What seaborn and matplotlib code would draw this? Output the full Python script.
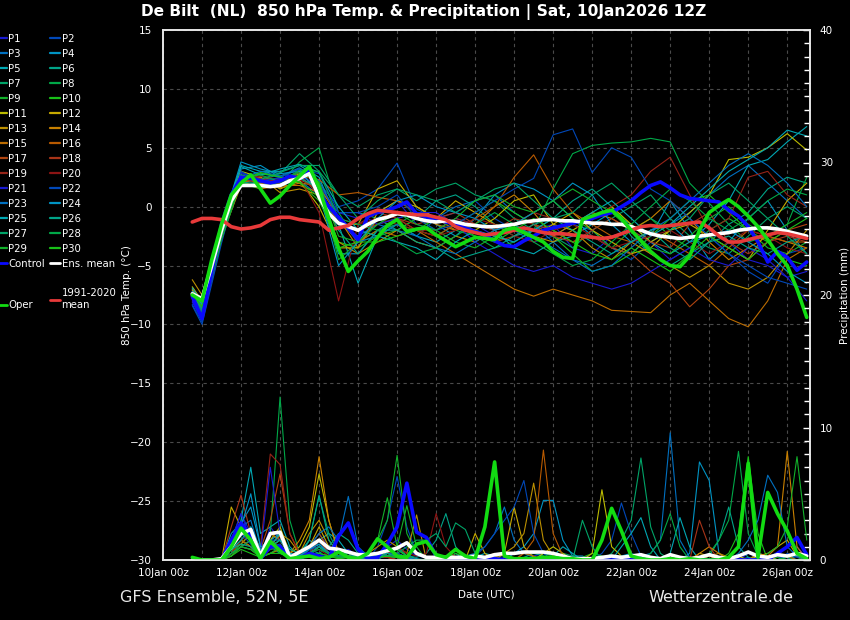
"""GFS ensemble plume for De Bilt: 850 hPa temperature and precipitation."""

import matplotlib

matplotlib.use("Agg")
import matplotlib.pyplot as plt
import pandas as pd
import seaborn as sns
from matplotlib.lines import Line2D
from matplotlib.ticker import MultipleLocator

# hours after 10Jan 00z; run is 10Jan 12Z, first step +6h
step_hours = list(range(18, 397, 6))
member_temp_hours = [18] + list(range(24, 397, 12))

tick_hours = list(range(0, 385, 48))
tick_labels = ["10Jan 00z", "12Jan 00z", "14Jan 00z", "16Jan 00z", "18Jan 00z",
               "20Jan 00z", "22Jan 00z", "24Jan 00z", "26Jan 00z"]

member_names = [f"P{i}" for i in range(1, 31)]
base_colors = ["#1a1ad0", "#0048b8", "#0070c0", "#0094c4", "#00a8b4",
               "#00a488", "#00a468", "#00a848", "#12b02a", "#18c018",
               "#bcbc00", "#c8aa00", "#bc9000", "#c88000", "#bc6c00",
               "#b85a00", "#b04410", "#a83418", "#962418", "#8c1414"]
member_colors = [base_colors[i % 20] for i in range(30)]

# 850 hPa temperature of the perturbed members (12-hourly)
member_temp = [
    [-8.0, -9.5, -2.6, 2.5, 2.0, 2.3, 2.8, 1.5, -0.5, -1.0, -0.5, 0.5, -1.5, -2.0, -1.0, -1.5, -2.5, -3.0, -2.0, -1.5, -3.5, -4.0, -2.5, -2.0, -3.0, -4.5, -3.5, -2.0, -3.0, -4.5, -5.0, -6.0, -5.5],
    [-8.3, -9.8, -2.8, 2.8, 2.4, 1.9, 3.0, 2.0, 0.0, 0.5, 1.5, 3.7, -0.2, -1.0, -0.5, 0.5, -1.0, -2.0, -3.0, -2.5, -1.5, -2.0, -3.5, -4.5, -3.0, -2.0, -1.0, -2.5, -4.0, -5.5, -6.5, -4.0, -3.5],
    [-7.8, -9.0, -2.3, 2.0, 2.8, 2.5, 2.2, 1.0, -1.5, -2.5, -1.5, -2.0, -2.5, -1.0, 0.0, 0.5, 1.0, -0.5, -1.5, -3.0, -4.5, -5.0, -4.0, -3.0, -2.0, -1.5, -0.5, 1.0, 2.5, 3.5, 2.0, 0.5, -1.0],
    [-7.2, -8.5, -1.8, 3.2, 3.5, 2.5, 3.2, 1.0, -4.0, -4.0, -2.0, -1.0, -0.5, -1.5, -2.5, -1.0, 1.0, 2.0, 1.5, 0.5, -1.0, -2.5, -3.5, -4.0, -2.5, 0.5, -2.0, -4.5, -3.0, -1.0, 0.5, -2.0, -4.0],
    [-7.0, -8.2, -1.6, 3.5, 3.0, 3.0, 3.5, 2.5, -1.5, -6.5, -2.5, -1.5, -2.5, -3.0, -2.0, -1.5, -2.0, -3.5, -4.0, -3.0, -2.5, -1.5, -0.5, -1.5, -3.0, -4.0, -3.0, -1.5, 0.5, 3.5, 4.0, 5.5, 6.8],
    [-7.5, -8.8, -2.3, 2.2, 2.0, 1.8, 2.5, 1.5, -0.5, -0.5, -1.0, -2.0, -1.0, 0.5, 1.0, 0.0, -1.5, -2.5, -2.0, -1.0, 0.5, 1.5, 0.0, -2.5, -4.0, -5.0, -4.0, -3.0, -1.5, -0.5, 1.5, 2.5, 2.0],
    [-7.6, -9.0, -2.4, 2.6, 2.2, 2.8, 4.5, 3.0, 1.0, 0.0, 1.0, 1.5, 0.5, 1.5, 2.0, 1.0, 0.5, -1.0, -2.0, -2.5, -3.5, -2.0, -1.0, 0.0, 1.0, -1.0, -2.5, -3.5, -4.0, -2.5, -1.0, 0.0, -1.0],
    [-7.3, -8.6, -2.0, 2.4, 2.6, 2.0, 3.8, 5.0, -0.5, -3.0, -2.0, -1.5, -0.5, -1.0, -2.0, -2.5, -3.5, -3.0, -2.0, 1.5, 4.5, 5.2, 5.4, 5.5, 5.8, 5.5, 2.0, 0.3, -1.5, -3.0, -2.5, -1.5, 2.5],
    [-7.7, -9.2, -2.7, 2.0, 1.5, 2.2, 3.0, 2.0, -4.5, -3.0, -2.5, -2.0, -1.0, -2.0, -3.0, -3.5, -2.5, -1.5, -0.5, 0.5, -1.0, -2.0, -3.5, -2.0, -1.0, -2.5, -3.5, -2.0, -1.0, -2.0, -3.5, -4.0, -3.0],
    [-7.4, -8.4, -2.1, 2.3, 2.8, 2.6, 2.0, 0.5, -3.0, -3.5, -2.5, -1.5, -2.0, -2.5, -1.5, -0.5, 0.5, -0.5, -1.5, -2.5, -4.0, -5.5, -5.0, -4.0, -2.5, -1.0, 0.5, 1.0, -0.5, -2.0, -3.0, -4.5, -5.0],
    [-6.8, -8.0, -1.8, 3.0, 2.5, 1.5, 2.2, 0.0, -3.5, -3.5, -0.5, 0.5, 0.0, -1.0, -1.5, -2.0, -1.0, 0.5, 1.0, -1.5, -2.0, -1.0, 0.0, -1.5, -3.0, -2.0, -0.5, 1.0, 4.0, 4.2, 5.0, 6.2, 4.8],
    [-7.1, -8.3, -2.2, 2.7, 1.8, 2.2, 2.8, 1.5, -1.5, -1.5, 1.5, 2.2, 0.0, -1.0, 0.5, -0.5, -1.5, -2.0, -2.5, -1.5, -0.5, -2.0, -3.0, -4.0, -3.5, -2.0, -1.5, -2.5, -3.5, -4.5, -2.0, 0.5, 2.0],
    [-6.2, -7.5, -1.3, 2.0, 2.5, 1.2, 1.5, 1.0, -3.0, -4.0, -3.0, -2.0, -3.0, -3.5, -2.5, -3.0, -2.0, -1.5, -2.5, -3.0, -2.0, -3.5, -4.5, -3.0, -4.0, -5.0, -6.0, -5.0, -6.5, -7.0, -6.0, -4.0, -2.0],
    [-7.0, -8.0, -2.5, 1.8, 2.0, 1.6, 2.0, 1.8, -1.0, -3.5, -1.0, -0.5, -0.5, -1.5, -2.0, -1.5, 0.0, 1.0, -0.5, -2.5, -1.5, -0.5, -1.0, -2.0, -1.0, 0.5, -1.0, -3.0, -4.5, -3.5, -2.5, -3.0, -3.5],
    [-7.4, -8.5, -2.3, 2.2, 1.5, 1.8, 1.8, 1.2, -1.0, -3.0, -2.0, -2.5, -2.0, -3.0, -4.0, -5.0, -6.0, -7.0, -7.6, -7.0, -7.5, -8.0, -8.8, -8.9, -9.0, -7.5, -6.5, -8.0, -9.5, -10.2, -8.0, -4.5, -3.5],
    [-7.3, -8.6, -2.4, 2.1, 2.3, 2.4, 2.6, 2.3, 1.0, 1.2, 0.8, 0.5, -0.5, -1.0, -2.0, -1.0, 0.0, 2.5, 4.4, 1.5, -0.5, -1.5, -2.5, -3.0, -2.0, -3.0, -4.0, -5.0, -3.5, -2.0, -2.5, -3.0, -3.0],
    [-7.5, -8.9, -2.6, 2.5, 2.2, 1.9, 2.3, 1.5, -1.5, -2.0, -1.5, -1.0, -2.0, -2.5, -1.5, -2.0, -3.0, -2.5, -1.5, -2.0, -3.0, -2.5, -3.5, -4.0, -5.5, -6.5, -8.5, -7.0, -5.0, -4.5, -3.0, -2.0, -1.5],
    [-7.6, -9.1, -2.5, 2.4, 2.0, 2.2, 2.7, 1.0, -2.0, -1.0, -0.5, -1.0, -1.5, -1.0, -0.5, -1.5, -2.0, -1.0, -1.5, -2.5, -3.0, -2.0, -1.0, -2.0, -3.0, -3.5, -1.5, -0.5, -3.0, -4.0, -3.0, -2.5, -3.0],
    [-7.9, -9.3, -2.8, 2.6, 2.4, 2.1, 2.9, 2.0, -1.0, -1.5, -0.5, -1.0, -2.0, -2.0, -1.0, -1.5, -2.0, -1.5, -0.5, -1.0, -1.5, -1.0, 0.0, 1.0, 3.0, 4.2, 1.0, -2.0, -1.0, 2.5, 3.0, 1.0, 0.0],
    [-7.7, -9.0, -2.7, 2.3, 2.6, 2.3, 2.5, -0.5, -8.0, -1.5, -1.0, -1.5, -2.0, -2.5, -2.0, -1.0, -1.5, -2.5, -3.0, -2.0, -1.5, -2.5, -3.5, -3.0, -2.5, -2.0, -3.0, -4.0, -3.0, -2.0, -2.5, -3.5, -4.0],
    [-8.1, -9.6, -2.9, 2.9, 2.2, 2.4, 2.6, 1.8, -0.5, -0.5, -1.5, -1.0, -0.5, -0.5, -1.5, -3.0, -4.0, -5.0, -5.5, -5.0, -6.0, -6.5, -7.0, -6.5, -5.5, -4.5, -3.5, -4.5, -5.0, -3.5, -4.5, -6.0, -8.0],
    [-8.4, -10.0, -3.1, 3.0, 2.1, 2.5, 3.2, 2.8, -0.5, -0.5, 0.0, 1.0, -1.0, -2.0, -1.5, -0.5, 0.5, 1.5, 2.4, 6.1, 6.6, 2.9, 5.0, 4.2, 1.5, 0.5, -1.0, -2.5, -4.0, -5.0, -6.0, -6.5, -7.0],
    [-7.6, -8.9, -2.2, 2.4, 3.0, 2.6, 3.3, 2.2, -1.0, -3.0, -2.5, -1.5, -2.5, -3.5, -4.0, -3.0, -2.0, -1.5, -2.5, -3.5, -4.5, -5.5, -5.0, -3.5, -2.0, -1.0, 0.5, 2.0, 3.5, 4.5, 3.5, 2.0, 0.0],
    [-7.2, -8.3, -1.7, 3.8, 3.2, 2.8, 3.0, 1.2, -5.0, -3.0, -1.0, 0.5, 1.0, 0.0, -0.5, -1.0, -2.0, -1.5, -0.5, 0.5, 2.0, 1.0, -1.5, -3.0, -2.0, -1.5, -3.0, -2.5, -2.0, -3.0, -4.0, -5.5, -6.5],
    [-6.9, -8.1, -1.4, 3.4, 2.7, 3.2, 3.6, 2.9, 0.0, -2.0, -2.5, -3.0, -3.5, -4.5, -3.0, -2.0, -2.5, -3.0, -2.0, -1.0, -1.5, -0.5, 0.5, -1.0, -2.5, -1.5, 0.0, 1.5, 3.0, 4.0, 5.0, 6.5, 6.0],
    [-7.5, -8.7, -2.4, 2.1, 1.9, 1.7, 2.4, 1.6, -2.0, -4.0, -2.0, -2.0, -3.0, -3.5, -4.5, -4.0, -3.5, -2.5, -1.5, -1.0, -2.0, -3.0, -4.0, -3.0, -2.0, -3.5, -4.5, -3.0, -2.5, -3.5, -4.0, -3.0, -2.5],
    [-7.6, -9.0, -2.5, 2.7, 2.3, 2.9, 3.5, 3.5, 1.0, -1.0, 0.5, 1.5, 1.0, 0.5, -0.5, 0.5, 1.5, 2.0, 0.5, -1.0, -0.5, 1.0, 2.0, 0.5, -1.0, -2.0, -1.0, 1.0, 2.0, 0.5, -1.0, -2.5, -4.0],
    [-7.3, -8.5, -1.9, 2.5, 2.7, 2.1, 3.1, 3.0, -1.0, -1.5, -2.0, -3.0, -4.0, -3.5, -2.5, -1.5, -0.5, -1.5, -3.0, -4.0, -5.0, -4.5, -3.0, -1.5, 0.0, 1.5, 0.5, -1.0, -2.0, -1.0, 0.5, 1.5, 1.0],
    [-7.8, -9.3, -2.8, 2.1, 1.6, 2.1, 2.9, 2.1, -2.5, -3.0, -1.5, -0.5, -1.5, -2.0, -1.0, 0.5, 1.0, 0.0, -0.5, 0.5, 1.5, 0.5, -0.5, -2.0, -3.5, -4.0, -2.5, -1.0, 0.0, -1.5, -2.5, -1.5, -0.5],
    [-7.4, -8.5, -2.2, 2.2, 2.9, 2.5, 2.1, 0.8, -3.5, -3.0, -3.0, -2.5, -2.0, -1.0, -1.5, -2.5, -3.0, -2.0, -1.0, -2.0, -3.0, -4.0, -4.5, -3.5, -4.5, -5.5, -4.0, -2.5, -3.5, -4.5, -3.0, -2.0, -1.0],
]

# 6-hourly precipitation of the perturbed members (mm)
member_precip = [
    [0, 0, 0, 0, 1.5, 3.5, 2.0, 0.2, 2.5, 1.5, 0.3, 0.5, 1.0, 2.0, 1.0, 0.5, 0.8, 0.3, 0.2, 0.5, 1.0, 1.5, 0.8, 0.3, 0.2, 0, 0, 0.2, 0, 0, 0.1, 0.3, 0.2, 0, 0, 0.3, 0.5, 0.4, 0.1, 0, 0, 0, 0, 0.2, 0, 0.3, 0.2, 0, 0, 0, 0.2, 0, 0, 0, 0.1, 0, 0, 0.5, 0.2, 0, 0.3, 0, 1.0, 0.2],
    [0, 0, 0, 0, 0.8, 2.0, 1.5, 0, 1.2, 0.8, 0, 0.2, 0.5, 1.0, 0.8, 0.3, 0.5, 0.2, 0, 1.0, 3.0, 6.3, 2.5, 0.5, 0.2, 0, 0, 0, 0, 0.2, 0, 0, 0, 0, 0, 0, 0.2, 0, 0, 0, 0, 0, 0.5, 1.5, 4.3, 2.0, 0.3, 0, 0, 0, 0, 0, 0.2, 0, 0, 0, 0, 0, 0, 0.3, 0, 0.5, 0.2, 0],
    [0, 0, 0, 0, 1.0, 2.5, 3.0, 0.5, 1.5, 2.0, 0.5, 0, 0.8, 1.2, 0.6, 0.2, 0.3, 0.5, 0.2, 0, 0.5, 1.0, 0.5, 0, 0, 0, 0, 0, 0.3, 0.5, 1.0, 2.0, 4.0, 1.5, 0.5, 0.2, 0, 0, 0, 0, 0, 0, 0, 0, 0, 0, 0.3, 0.5, 1.5, 9.6, 1.5, 0.2, 0, 0, 0, 0, 0, 0.2, 0, 0, 0, 0, 0.3, 0],
    [0, 0, 0, 0, 2.0, 2.8, 4.0, 1.0, 1.5, 2.0, 0.3, 0.2, 1.5, 1.0, 0.5, 0.8, 0.5, 0.2, 0, 0.3, 0.8, 0.5, 0.2, 0, 0, 0, 0, 0.5, 0, 0, 0, 0, 0, 0.5, 1.0, 2.0, 4.5, 4.5, 1.5, 0.3, 0.3, 0, 0, 0, 0.3, 0.5, 0.2, 0, 0, 0, 0, 0.5, 7.4, 6.0, 0.5, 0, 0, 0, 0.2, 0, 0, 0.3, 0, 0],
    [0, 0, 0, 0, 0.5, 3.0, 7.0, 2.0, 2.5, 3.0, 1.0, 0.3, 0.5, 1.5, 2.0, 1.5, 0.5, 0.3, 0, 0.2, 0.5, 0.8, 0.3, 0.1, 0, 0, 0, 0, 0, 0.2, 0.5, 0.3, 0, 0, 0, 0, 0, 0.3, 1.0, 0.5, 0, 0, 0, 0, 0, 0, 0, 0, 0, 0.5, 3.2, 1.0, 0, 0, 0, 0, 0, 0, 0.5, 0.3, 0, 0, 0, 0.2],
    [0, 0, 0, 0, 1.2, 1.8, 2.5, 0.5, 1.0, 0.5, 0.2, 0.4, 0.8, 0.5, 1.0, 2.0, 1.5, 0.5, 0.2, 0.3, 0.5, 1.0, 0.3, 0.2, 0.5, 1.5, 3.5, 1.0, 0.2, 0, 0, 0, 0, 0, 0.2, 0.5, 0.3, 0, 0, 0, 0, 0, 0, 0, 0, 0.2, 0, 0, 0, 0, 0, 0, 0, 0.3, 1.5, 4.0, 1.0, 0.2, 0, 0.2, 0, 0, 0, 0],
    [0, 0, 0, 0, 1.0, 2.0, 1.5, 0.5, 1.0, 2.0, 0.8, 0.5, 1.5, 4.8, 2.0, 0.5, 0.3, 0.2, 0.5, 0.3, 0.2, 0.5, 0.2, 0, 0, 0, 0, 0.2, 0, 0, 0, 0, 0, 0, 0, 0, 0, 0.2, 0.5, 0.3, 0, 0, 0, 0.5, 1.5, 3.0, 7.7, 2.5, 0.5, 0, 0, 0, 0, 0, 0, 0, 0, 0, 0, 0.3, 0, 0, 0.5, 0],
    [0, 0, 0, 0, 0.8, 1.5, 1.0, 0.3, 2.0, 12.3, 3.0, 0.5, 0.3, 1.0, 0.5, 0.2, 0.2, 0, 0, 0.2, 0.5, 0.3, 0, 0, 0, 0, 0, 0, 0, 0.3, 0, 0, 0, 0, 0, 0, 0.5, 0.3, 0, 0, 0, 0, 0, 0, 0, 0, 0, 0, 0, 0, 0, 0, 0, 0.5, 1.5, 3.0, 8.2, 2.0, 0.3, 0, 0, 0.2, 0, 0],
    [0, 0, 0, 0, 0.5, 1.2, 2.0, 0.4, 0.8, 1.0, 0.2, 0, 0.5, 1.0, 0.4, 0.2, 0.3, 0.2, 0.5, 1.5, 3.0, 7.9, 2.0, 0.5, 0.2, 0, 0, 0, 0, 0, 0, 0, 0, 0, 0, 0, 0, 0, 0, 0, 0.2, 0.5, 0.3, 0, 0, 0, 0, 0, 0, 0, 0, 0, 0, 0, 0, 0, 0, 0, 0, 0, 0.2, 0, 0, 0.3],
    [0, 0, 0, 0, 0.3, 1.0, 0.8, 0.2, 0.5, 0.8, 0.2, 0.1, 0.3, 0.5, 0.3, 0.1, 0.2, 0, 0, 0.3, 0.5, 0.8, 0.3, 0, 0, 0, 0, 0.5, 0.2, 0, 0, 0, 0, 0, 0, 0, 0, 0, 0.2, 0, 0, 0, 0, 0, 0, 0, 0, 0, 0, 0, 0, 0, 0, 0, 0, 0.5, 2.0, 7.8, 2.0, 0, 0, 0, 0, 0],
    [0, 0, 0, 0, 0.5, 1.5, 1.0, 0.2, 1.5, 2.5, 0.5, 1.0, 2.5, 6.5, 3.0, 0.5, 0.3, 0, 0, 0.2, 0.3, 0.2, 0, 0, 0, 0, 0, 0, 0, 0, 0, 0, 0, 0, 0, 0, 0.5, 1.0, 0.5, 0, 0, 0.5, 5.3, 1.0, 0.3, 0, 0, 0, 0, 0, 0, 0, 0, 0, 0, 0, 0.3, 0, 0, 0.3, 0, 0, 0, 0],
    [0, 0, 0, 0, 4.0, 2.5, 1.5, 0.3, 1.0, 1.5, 0.3, 0.2, 1.0, 2.5, 1.0, 0.3, 0.2, 0, 0, 0.3, 0.5, 0.5, 0.2, 0, 0, 0, 0, 0, 0, 2.0, 0.5, 0, 0.5, 4.0, 1.0, 0.2, 0, 0, 0, 0, 0, 0, 0, 0, 0, 0, 0, 0, 0, 0, 0, 0, 0.5, 0.3, 0, 0, 0, 0, 0.3, 0.5, 1.0, 1.5, 0.3, 0],
    [0, 0, 0, 0, 0.8, 1.2, 2.0, 0.5, 1.0, 2.0, 1.5, 0.5, 2.0, 3.0, 1.5, 0.5, 0.5, 0.3, 0.5, 1.0, 1.5, 1.0, 0.5, 3.4, 0, 0, 0, 0, 0, 0, 0, 0.2, 0.5, 1.0, 2.0, 5.8, 1.5, 0.3, 0, 0, 0, 0, 0, 0, 0, 0, 0, 0, 0, 0, 0, 0, 0, 0.3, 0.5, 0.2, 0, 0, 0, 0, 0, 0, 0, 0],
    [0, 0, 0, 0, 1.0, 2.0, 1.5, 0.5, 2.0, 1.5, 0.5, 1.5, 3.0, 7.8, 3.0, 0.5, 0.3, 0.2, 0, 0.3, 0.2, 0, 0, 0, 0, 0, 0, 0, 0, 0, 0.2, 0.5, 0.3, 0, 0, 0, 0, 0, 0, 0, 0, 0, 0, 0, 0, 0, 0, 0, 0, 0, 0, 0, 0.5, 1.0, 0.5, 0, 0, 0, 0.5, 0.3, 1.0, 8.2, 1.0, 0],
    [0, 0, 0, 0, 0.5, 1.0, 1.5, 0.3, 0.5, 0.8, 0.3, 0.2, 0.5, 1.0, 0.5, 0.2, 0.3, 0.2, 0.1, 0.2, 0.5, 0.3, 0.2, 0, 0, 0, 0, 0, 0, 0, 0, 0, 0, 0, 0.5, 0.3, 0, 0, 0, 0, 0, 0, 0, 0, 0, 0, 0, 0, 0, 0, 0, 0, 0, 0, 0, 0, 0, 0, 0, 0, 0.5, 0.3, 0, 0],
    [0, 0, 0, 0, 0.5, 1.5, 1.0, 0.2, 1.2, 1.8, 0.5, 0.5, 1.0, 2.0, 0.8, 0.3, 0.2, 0, 0.2, 0.5, 0.3, 0.2, 0, 0, 0, 0, 0, 0, 0, 0, 0, 0, 0, 0, 0.5, 1.5, 8.3, 2.0, 0.3, 0, 0, 0, 0, 0, 0, 0, 0, 0, 0, 0, 0, 0, 0, 0, 0, 0, 0, 0, 0, 0, 0, 0, 0, 0],
    [0, 0, 0, 0, 1.0, 2.0, 1.5, 0.8, 3.0, 6.5, 2.0, 0.5, 0.8, 1.5, 0.5, 0.2, 0.2, 0.1, 0, 0.2, 0.3, 0, 0, 0, 0, 0, 0, 0, 0, 0, 0, 0, 0, 0, 0, 0, 0, 0, 0, 0, 0, 0, 0, 0, 0, 0, 0, 0, 0, 0, 0, 0, 0, 0, 0, 0, 0, 0, 0, 0, 0, 0, 0, 0],
    [0, 0, 0, 0, 2.5, 4.9, 2.0, 0.5, 1.5, 1.0, 0.3, 0.2, 0.8, 1.0, 0.5, 0.2, 0.2, 0, 0, 0.2, 0.3, 0.2, 0, 0, 0, 0, 0, 0, 0, 0, 0, 0, 0, 0, 0, 0, 0, 0, 0, 0, 0, 0, 0, 0, 0, 0, 0, 0, 0, 0, 0, 0, 3.0, 1.0, 0, 0, 0, 0, 0, 0, 0, 0, 0, 0],
    [0, 0, 0, 0, 0.5, 1.5, 2.0, 1.0, 8.0, 7.2, 2.0, 0.5, 0.5, 1.5, 0.8, 0.3, 0.2, 0, 0, 0.2, 0.2, 0, 0, 0, 0, 0, 0, 0, 0, 0, 0, 0, 0, 0, 0, 0, 0, 0, 0, 0, 0, 0, 0, 0, 0, 0, 0, 0, 0, 0, 0, 0, 0, 0, 0, 0, 0, 0, 0, 0, 0, 0, 0, 0],
    [0, 0, 0, 0, 0.3, 1.0, 0.8, 0.2, 0.8, 1.0, 0.3, 0.2, 0.5, 0.8, 0.3, 0.2, 0.2, 0, 0, 0.2, 0.5, 1.0, 0.5, 0.3, 0.5, 3.5, 1.0, 0.2, 0, 0, 0, 0, 0, 0, 0, 0, 0, 0, 0, 0, 0, 0, 0, 0, 0, 0, 0, 0, 0, 0, 0, 0, 0, 0, 0, 0, 0, 0, 0, 0, 0, 0, 0, 0],
    [0, 0, 0, 0, 1.5, 3.5, 1.5, 0.5, 7.0, 2.0, 0.5, 0.3, 0.8, 1.5, 0.8, 0.3, 0.2, 0.2, 0, 0.3, 0.5, 0.5, 0.2, 0, 0, 0, 0, 0, 0, 0, 0, 0, 0, 0, 0, 0, 0, 0, 0, 0, 0, 0, 0, 0, 0, 0, 0, 0, 0, 0, 0, 0, 0, 0, 0, 0, 0, 0, 0, 0, 0, 0, 0, 0],
    [0, 0, 0, 0, 1.0, 2.0, 1.2, 0.3, 1.0, 1.2, 0.3, 0.2, 0.8, 1.0, 0.5, 0.2, 0.2, 0, 0, 0.2, 0.3, 0.5, 0.2, 0, 0, 0, 0, 0, 0, 0.3, 1.0, 2.0, 3.0, 4.0, 6.0, 2.0, 0.5, 0, 0, 0, 0, 0, 0, 0, 0, 0, 0, 0, 0, 0, 0, 0, 0, 0, 0, 0, 0, 0, 0, 0, 0, 0, 0, 0],
    [0, 0, 0, 0, 1.2, 2.5, 1.5, 0.5, 1.5, 1.5, 0.5, 0.3, 1.0, 2.0, 2.5, 1.5, 4.8, 1.0, 0.3, 0.2, 0.3, 0.2, 0, 0, 0, 0, 0, 0, 0, 0, 0, 0, 0, 0, 0, 0, 0, 0, 0, 0, 0, 0, 0, 0, 0, 0, 0, 0, 0, 0, 0, 0, 0, 0, 0, 0, 0.5, 1.5, 3.0, 6.4, 5.1, 1.0, 0.3, 0],
    [0, 0, 0, 0, 1.5, 2.5, 5.0, 1.0, 1.0, 1.5, 0.5, 0.3, 0.8, 1.2, 0.5, 0.3, 0.3, 0.2, 0, 0.2, 0.5, 0.3, 0.2, 0, 0, 0, 0, 0, 0, 0, 0, 0, 0, 0, 0, 0, 0, 0, 0, 0, 0, 0, 0, 0, 0.3, 0, 0, 0, 0, 0, 0, 0, 0, 0, 0, 0, 0, 0, 0, 0, 0, 0, 0, 0],
    [0, 0, 0, 0, 0.8, 1.5, 2.5, 0.8, 1.0, 2.0, 0.5, 0.2, 0.5, 1.0, 0.5, 0.2, 0.2, 0, 0, 0.2, 0.3, 0.2, 0, 0, 0, 0, 0, 0, 0, 0, 0, 0, 0, 0, 0, 0, 0, 0, 0, 0, 0, 0, 0, 0, 1.0, 2.0, 3.2, 1.0, 0, 0, 0, 0, 0, 0, 0, 0, 0, 0, 0, 0, 0, 0, 0, 0],
    [0, 0, 0, 0, 0.8, 1.2, 1.0, 0.3, 1.0, 1.5, 0.8, 0.5, 1.5, 4.9, 1.5, 0.5, 0.5, 0.2, 0.2, 0.3, 0.5, 0.3, 0, 0, 0, 0, 0, 0, 0, 0, 0, 0, 0, 0, 0, 0, 0, 0, 0, 0, 0, 0, 0, 0, 0, 0, 0, 0, 0, 0, 0, 0, 0, 0, 0, 0, 0, 0, 0, 0, 0, 0, 0, 0],
    [0, 0, 0, 0, 0.5, 1.0, 1.5, 0.5, 1.0, 0.8, 0.3, 0.2, 0.5, 1.0, 0.5, 0.3, 0.2, 0.2, 0.3, 0.5, 0.3, 0.5, 1.0, 1.5, 1.5, 2.0, 1.0, 2.8, 2.3, 0.5, 0, 0, 0, 0, 0, 0, 0, 0, 0, 0, 3.0, 1.0, 0, 0, 0, 0, 0, 0, 0, 0, 0, 0, 0, 0, 0, 0, 0, 0, 0, 0, 0, 0, 0, 0],
    [0, 0, 0, 0, 0.5, 1.0, 0.8, 0.3, 0.8, 1.0, 0.3, 0.2, 0.5, 0.8, 0.5, 0.2, 0.2, 0, 0, 0.2, 0.3, 0.2, 0, 0, 0, 0, 0, 0, 0, 0, 0, 0, 0, 0, 0, 0, 0, 0, 0, 0, 0, 0, 0, 0, 0, 0, 0, 0.5, 1.5, 3.5, 1.0, 0, 0, 0, 0, 0, 0, 0, 0, 0, 0, 0, 0, 0],
    [0, 0, 0, 0, 0.3, 1.0, 0.8, 0.2, 0.5, 1.0, 0.3, 0.2, 0.3, 0.5, 0.3, 0.2, 0.5, 0.3, 0.5, 1.5, 4.7, 1.0, 4.1, 1.0, 0, 0, 0, 0, 0, 0, 0, 0, 0, 0, 0, 0, 0, 0, 0, 0, 0, 0, 0, 0, 0, 0, 0, 0, 0, 0, 0, 0, 0, 0, 0, 0, 0, 0, 0, 0.5, 1.0, 2.5, 7.8, 1.5],
    [0, 0, 0, 0, 0.3, 0.8, 0.5, 0.2, 0.5, 0.5, 0.2, 0.1, 0.3, 0.5, 0.3, 0.1, 0.2, 0, 0, 0.2, 0.3, 0.2, 0, 0, 0, 0, 0, 0, 0, 0, 0, 0, 0, 0, 0, 0, 0, 0, 0, 0, 0, 0, 0, 0, 0, 0, 0, 0, 0, 0, 0, 0, 0, 0, 0, 0, 0, 0, 0, 0, 0, 0, 0, 0],
]

control_temp = [-7.6, -9.5, -5.5, -1.5, 1.0, 2.5, 2.4, 2.2, 2.0, 2.2, 2.6, 2.4, 3.2, 1.2, 0.0, -0.9,
                -1.8, -2.8, -0.8, -0.5, -0.3, 0.0, 0.4, -0.6, -0.9, -1.1, -1.3, -1.5, -1.8, -2.1, -2.4, -2.9,
                -3.3, -3.4, -2.9, -2.5, -2.0, -1.8, -1.6, -1.4, -1.2, -1.0, -0.7, -0.5, 0.0, 0.5, 1.2, 1.8,
                2.1, 1.6, 1.0, 0.7, 0.6, 0.5, 0.4, -0.3, -0.8, -1.7, -3.0, -4.7, -3.8, -4.3, -5.4, -4.7]
ens_mean_temp = [-7.4, -7.8, -5.0, -2.0, 0.5, 1.8, 1.8, 1.8, 1.7, 1.8, 2.2, 2.4, 2.8, 0.8, -0.6, -1.4,
                 -1.7, -2.0, -1.5, -1.1, -0.9, -0.6, -0.7, -1.0, -1.2, -1.3, -1.2, -1.3, -1.5, -1.6, -1.7, -1.7,
                 -1.6, -1.5, -1.3, -1.2, -1.1, -1.1, -1.2, -1.2, -1.3, -1.4, -1.4, -1.5, -1.5, -1.7, -2.0, -2.3,
                 -2.5, -2.6, -2.7, -2.6, -2.5, -2.4, -2.3, -2.2, -2.0, -1.9, -1.8, -1.8, -1.9, -2.1, -2.3, -2.5]
clim_temp = [-1.3, -1.0, -1.0, -1.1, -1.7, -1.9, -1.8, -1.6, -1.1, -0.9, -0.9, -1.1, -1.2, -1.3, -2.0, -1.8,
             -1.6, -1.0, -0.6, -0.3, -0.4, -0.5, -0.6, -0.7, -0.7, -0.9, -1.1, -1.7, -2.0, -2.2, -2.4, -2.3,
             -2.2, -2.0, -1.8, -2.0, -2.2, -2.3, -2.3, -2.4, -2.5, -2.6, -2.7, -2.6, -2.3, -2.0, -1.7, -1.6,
             -1.7, -1.6, -1.5, -1.4, -1.3, -1.8, -2.5, -3.0, -3.0, -2.8, -2.6, -2.4, -2.2, -2.3, -2.5, -2.7]
oper_temp = [-7.5, -8.0, -4.5, -1.5, 1.0, 2.0, 2.7, 1.5, 0.3, 0.9, 1.8, 2.6, 3.4, 1.6, -1.0, -3.5,
             -5.5, -4.6, -3.8, -2.6, -1.6, -1.1, -2.1, -1.9, -1.8, -2.4, -2.9, -3.4, -3.0, -2.6, -2.7, -2.8,
             -2.0, -1.8, -2.2, -2.6, -3.0, -3.8, -4.3, -4.4, -1.1, -0.8, -0.5, -0.3, -1.0, -2.0, -2.9, -3.8,
             -4.5, -5.0, -5.1, -4.2, -2.0, -0.5, 0.1, 0.6, 0.0, -0.8, -1.7, -2.8, -4.0, -5.0, -7.0, -9.4]

control_precip = [0, 0, 0, 0, 1.5, 2.8, 1.8, 0.1, 1.0, 1.0, 0.1, 0.1, 0.5, 0.3, 0.1, 1.8,
                  2.8, 0.8, 0.1, 0.2, 1.2, 2.5, 5.8, 2.1, 1.7, 0.3, 0.1, 0, 0.1, 0, 0, 0.1,
                  0, 0, 0, 0, 0.1, 0, 0, 0, 0, 0, 0, 0, 0, 0, 0.1, 0,
                  0, 0, 0, 0, 0, 0, 0, 0, 0, 0, 0, 0, 0.5, 1.0, 1.7, 0.4]
ens_mean_precip = [0, 0, 0, 0.1, 1.0, 2.0, 2.3, 0.3, 2.0, 2.1, 0.2, 0.6, 1.0, 1.5, 0.9, 0.8,
                   0.6, 0.4, 0.4, 0.5, 0.7, 0.9, 1.3, 0.5, 0.2, 0.2, 0.2, 0.2, 0.2, 0.3, 0.2, 0.4,
                   0.5, 0.5, 0.6, 0.6, 0.6, 0.5, 0.3, 0.1, 0.1, 0.1, 0.2, 0.3, 0.2, 0.3, 0.4, 0.2,
                   0.1, 0.4, 0.2, 0.1, 0.2, 0.4, 0.2, 0.1, 0.3, 0.6, 0.3, 0.2, 0.4, 0.3, 0.5, 0.3]
oper_precip = [0.2, 0, 0, 0, 1.0, 2.4, 1.5, 0.1, 1.4, 0.7, 0.1, 0.2, 0.3, 0.1, 0.2, 0.6,
               0.2, 0.1, 0.5, 1.6, 1.0, 0.3, 0.2, 1.2, 1.4, 0.4, 0.2, 0.8, 0.3, 0.1, 2.5, 7.4,
               0.3, 0.1, 0.1, 0.1, 0.2, 0.2, 0.1, 0.1, 0, 0, 1.5, 3.9, 2.2, 0.3, 0.1, 0,
               0, 0.1, 0, 0.1, 0, 0, 0, 0.2, 1.0, 7.3, 0.2, 5.1, 3.5, 2.2, 0.5, 0.1]

CONTROL_COLOR = "#0a0aff"
MEAN_COLOR = "#ffffff"
OPER_COLOR = "#12dc12"
CLIM_COLOR = "#e83a3a"
GRID_COLOR = "#4a4a4a"
FG = "white"


def _long_frame(values, hours, column):
    rows = [(name, h, v) for name, row in zip(member_names, values) for h, v in zip(hours, row)]
    return pd.DataFrame(rows, columns=["member", "hour", column])


sns.set_theme(style="dark", rc={
    "figure.facecolor": "black", "axes.facecolor": "black", "savefig.facecolor": "black",
    "axes.edgecolor": FG, "text.color": FG, "axes.labelcolor": FG,
    "xtick.color": FG, "ytick.color": FG,
})
plt.rcParams["font.family"] = ["DejaVu Sans"]

fig = plt.figure(figsize=(8.5, 6.2), dpi=100)
ax = fig.add_axes([163 / 850, 60 / 620, 647 / 850, 530 / 620])
ax2 = ax.twinx()
palette = dict(zip(member_names, member_colors))

# temperature plume
sns.lineplot(data=_long_frame(member_temp, member_temp_hours, "temp"), x="hour", y="temp",
             hue="member", palette=palette, linewidth=0.8, legend=False,
             estimator=None, sort=False, ax=ax)
sns.lineplot(x=step_hours, y=control_temp, color=CONTROL_COLOR, linewidth=2.6, ax=ax)
sns.lineplot(x=step_hours, y=ens_mean_temp, color=MEAN_COLOR, linewidth=2.6, ax=ax)
sns.lineplot(x=step_hours, y=clim_temp, color=CLIM_COLOR, linewidth=2.6, ax=ax)
sns.lineplot(x=step_hours, y=oper_temp, color=OPER_COLOR, linewidth=2.6, ax=ax)

# precipitation plume on the right axis
sns.lineplot(data=_long_frame(member_precip, step_hours, "precip"), x="hour", y="precip",
             hue="member", palette=palette, linewidth=0.8, legend=False,
             estimator=None, sort=False, ax=ax2)
sns.lineplot(x=step_hours, y=control_precip, color=CONTROL_COLOR, linewidth=2.6, ax=ax2)
sns.lineplot(x=step_hours, y=ens_mean_precip, color=MEAN_COLOR, linewidth=2.6, ax=ax2)
sns.lineplot(x=step_hours, y=oper_precip, color=OPER_COLOR, linewidth=2.6, ax=ax2)

ax.set_xlim(0, 398)
ax.set_ylim(-30, 15)
ax2.set_ylim(0, 40)
ax.set_xticks(tick_hours, tick_labels)
ax.xaxis.set_minor_locator(MultipleLocator(24))
ax.set_yticks(range(-30, 16, 5))
ax2.yaxis.set_major_locator(MultipleLocator(10))
ax2.yaxis.set_minor_locator(MultipleLocator(1))

grid_style = dict(color=GRID_COLOR, linestyle=(0, (3, 3)), linewidth=0.8)
ax.grid(True, which="both", axis="x", **grid_style)
ax.grid(True, which="major", axis="y", **grid_style)
ax2.grid(False)
ax.set_axisbelow(True)

ax.tick_params(axis="both", which="both", length=0, labelsize=7.5, colors=FG)
ax.tick_params(axis="y", pad=8)
ax.tick_params(axis="x", pad=6)
ax2.tick_params(axis="y", which="major", direction="in", length=5, width=1,
                labelsize=7.5, colors=FG, pad=7)
ax2.tick_params(axis="y", which="minor", direction="in", length=4, width=1, colors=FG)

for axis in (ax, ax2):
    for spine in axis.spines.values():
        spine.set_color("#e6e6e6")
        spine.set_linewidth(1.2)

ax.set_xlabel("Date (UTC)", fontsize=7.5, color=FG)
ax.xaxis.set_label_coords(0.499, -0.055)
ax.set_ylabel("850 hPa Temp. (°C)", fontsize=7.5, color=FG)
ax.yaxis.set_label_coords(-0.048, 0.5)
ax2.set_ylabel("Precipitation (mm)", fontsize=7.5, color=FG)
ax2.yaxis.set_label_coords(1.046, 0.5)

fig.text(0.498, 0.981, "De Bilt  (NL)  850 hPa Temp. & Precipitation | Sat, 10Jan2026 12Z",
         ha="center", va="center", fontsize=11.1, fontweight="bold", color=FG)
fig.text(120 / 850, 1 - 598 / 620, "GFS Ensemble, 52N, 5E", ha="left", va="center",
         fontsize=11.5, color="#e8e8e8")
fig.text(793 / 850, 1 - 598 / 620, "Wetterzentrale.de", ha="right", va="center",
         fontsize=11.5, color="#e8e8e8")

# legend: two columns, filled column by column
member_handles = [Line2D([0], [0], color=c, lw=1.6) for c in member_colors]
blank = Line2D([0], [0], color="none")
left_handles = member_handles[0::2] + [Line2D([0], [0], color=CONTROL_COLOR, lw=2.0), blank,
                                       Line2D([0], [0], color=OPER_COLOR, lw=2.0)]
left_labels = member_names[0::2] + ["Control", "\n", "Oper"]
right_handles = member_handles[1::2] + [Line2D([0], [0], color=MEAN_COLOR, lw=2.0), blank,
                                        Line2D([0], [0], color=CLIM_COLOR, lw=2.0)]
right_labels = member_names[1::2] + ["Ens. mean", " ", "1991-2020\nmean"]
fig.legend(left_handles + right_handles, left_labels + right_labels, ncol=2,
           loc="upper left", bbox_to_anchor=(-0.004, 1 - 34 / 620), frameon=False,
           fontsize=7.3, handlelength=1.0, handletextpad=0.15, columnspacing=0.5,
           labelspacing=0.49, borderpad=0, borderaxespad=0)

fig.savefig("out.png", dpi=100, facecolor="black")
